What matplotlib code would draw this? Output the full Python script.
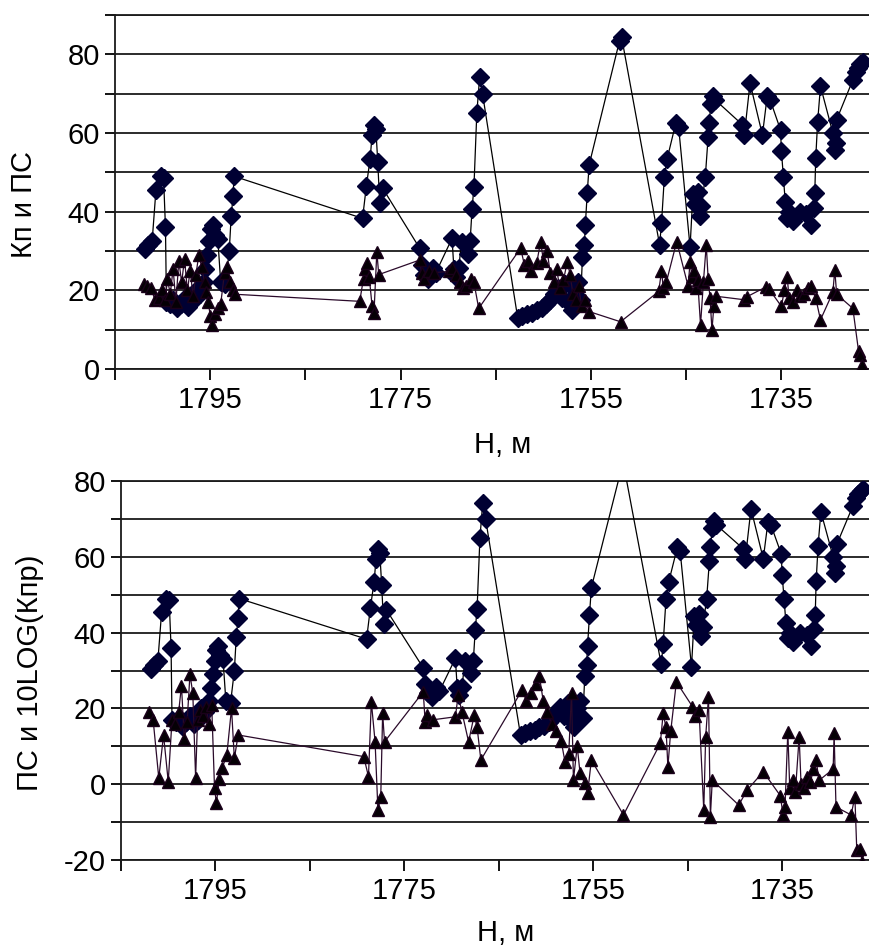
import matplotlib
matplotlib.use("Agg")
import matplotlib.pyplot as plt

plt.rcParams['font.family'] = ['Liberation Sans', 'DejaVu Sans']

# ПС (diamonds, same curve in both panels)
depth_ps = [1801.8, 1801.5, 1801.1, 1800.7, 1800.2, 1799.9, 1799.7, 1799.6, 1799.2, 1798.9,
            1798.5, 1798.1, 1797.7, 1797.3, 1796.9, 1796.5, 1796.1, 1795.7, 1795.5, 1795.3,
            1795.1, 1794.9, 1794.7, 1794.5, 1794.2, 1793.9, 1793.4, 1793.0, 1792.8, 1792.6,
            1792.5, 1779.0, 1778.6, 1778.2, 1778.0, 1777.8, 1777.6, 1777.4, 1777.2, 1776.9,
            1773.0, 1772.8, 1772.5, 1772.1, 1771.6, 1771.3, 1769.6, 1769.4, 1769.2, 1768.9,
            1768.6, 1767.9, 1767.7, 1767.5, 1767.3, 1767.0, 1766.7, 1766.4, 1762.7, 1762.2,
            1761.7, 1761.2, 1760.7, 1760.2, 1759.7, 1759.3, 1758.9, 1758.5, 1758.1, 1757.7,
            1757.4, 1757.0, 1756.7, 1756.4, 1756.1, 1755.9, 1755.7, 1755.6, 1755.4, 1755.2,
            1752.0, 1751.8, 1747.8, 1747.6, 1747.3, 1747.0, 1746.1, 1745.8, 1744.6, 1744.3,
            1744.1, 1743.8, 1743.6, 1743.4, 1743.0, 1742.7, 1742.6, 1742.4, 1742.2, 1742.0,
            1739.1, 1738.9, 1738.3, 1737.0, 1736.5, 1736.2, 1735.1, 1735.0, 1734.8, 1734.6,
            1734.4, 1734.2, 1733.8, 1733.1, 1732.4, 1731.9, 1731.6, 1731.5, 1731.4, 1731.2,
            1730.9, 1729.6, 1729.4, 1729.3, 1729.2, 1727.5, 1727.2, 1727.0, 1726.7, 1726.4]
ps = [30.5, 31.5, 32.5, 45.5, 49.0, 48.5, 36.0, 17.0, 16.5, 17.5,
      15.5, 16.5, 18.0, 15.8, 17.0, 20.0, 19.0, 22.0, 25.5, 29.0,
      32.5, 35.5, 36.5, 34.0, 33.0, 22.0, 21.5, 30.0, 38.8, 44.0,
      49.0, 38.3, 46.5, 53.5, 59.5, 62.0, 61.0, 52.5, 42.2, 46.0,
      30.7, 26.5, 24.0, 23.0, 25.6, 24.5, 33.2, 25.3, 23.5, 25.6,
      32.4, 29.3, 32.5, 40.6, 46.3, 65.0, 74.3, 70.0, 12.9, 13.5,
      14.0, 14.2, 15.0, 15.5, 16.5, 17.5, 19.0, 20.5, 18.0, 21.5,
      17.0, 15.0, 20.0, 22.0, 17.5, 28.5, 31.5, 36.6, 44.7, 51.9,
      83.5, 84.5, 31.6, 37.0, 48.8, 53.5, 62.5, 61.5, 31.0, 44.5,
      42.0, 45.0, 39.0, 41.5, 48.8, 59.0, 62.5, 67.5, 69.5, 68.5,
      62.1, 59.5, 72.7, 59.5, 69.3, 68.5, 60.8, 55.3, 48.9, 42.5,
      38.5, 40.0, 37.5, 40.0, 39.3, 36.6, 40.9, 44.7, 53.6, 62.9,
      71.9, 60.0, 55.7, 57.5, 63.4, 73.5, 75.5, 76.5, 77.5, 78.0]

# Кп (triangles, top panel)
depth_kp = [1802.0, 1801.6, 1801.2, 1800.8, 1800.4, 1800.1, 1799.7, 1799.5, 1799.2, 1798.9,
            1798.6, 1798.3, 1798.0, 1797.7, 1797.4, 1797.1, 1796.8, 1796.5, 1796.2, 1795.9,
            1795.6, 1795.4, 1795.2, 1795.0, 1794.8, 1794.5, 1794.2, 1793.9, 1793.5, 1793.2,
            1792.9, 1792.6, 1792.4, 1779.3, 1778.9, 1778.7, 1778.5, 1778.3, 1778.0, 1777.8,
            1777.5, 1777.3, 1773.0, 1772.8, 1772.5, 1772.0, 1771.5, 1769.9, 1769.6, 1769.2,
            1768.8, 1768.4, 1768.1, 1767.6, 1767.3, 1766.8, 1762.4, 1762.0, 1761.6, 1761.3,
            1760.7, 1760.3, 1760.0, 1759.6, 1759.3, 1758.9, 1758.6, 1758.3, 1757.9, 1757.5,
            1757.2, 1756.9, 1756.6, 1756.3, 1756.0, 1755.6, 1755.2, 1751.9, 1747.9, 1747.6,
            1747.4, 1747.1, 1746.0, 1744.8, 1744.6, 1744.4, 1744.2, 1744.0, 1743.8, 1743.5,
            1743.2, 1742.9, 1742.7, 1742.5, 1742.3, 1742.1, 1741.9, 1738.9, 1738.6, 1736.6,
            1736.3, 1735.0, 1734.7, 1734.4, 1734.2, 1733.8, 1733.4, 1733.0, 1732.6, 1732.2,
            1731.9, 1731.4, 1730.9, 1729.6, 1729.4, 1729.2, 1727.5, 1726.9, 1726.7, 1726.5]
kp = [21.5, 21.0, 20.5, 17.5, 18.0, 20.0, 17.5, 23.0, 19.0, 25.5,
      17.0, 27.5, 22.0, 28.0, 20.0, 25.0, 18.5, 24.0, 29.0, 26.0,
      22.0, 19.5, 17.0, 13.5, 11.2, 14.0, 15.5, 16.5, 24.5, 26.0,
      22.0, 20.0, 19.0, 17.2, 23.0, 25.5, 27.0, 23.5, 16.0, 14.2,
      29.8, 24.0, 27.7, 24.5, 23.0, 25.0, 24.5, 24.8, 25.6, 24.0,
      22.2, 20.5, 21.0, 23.0, 22.0, 15.4, 30.7, 26.5, 27.5, 25.0,
      27.0, 32.4, 27.5, 30.0, 24.5, 22.0, 25.5, 20.5, 22.5, 27.3,
      24.0, 19.0, 17.5, 21.0, 16.0, 17.5, 14.6, 12.0, 19.7, 24.8,
      20.5, 22.0, 32.4, 21.0, 27.3, 23.5, 25.0, 20.5, 22.5, 11.2,
      22.0, 31.6, 23.0, 18.0, 9.9, 16.0, 18.5, 17.6, 18.4, 20.9,
      20.3, 15.9, 20.0, 23.5, 18.0, 17.0, 20.0, 18.5, 19.0, 20.5,
      21.0, 18.0, 12.5, 19.5, 25.2, 19.0, 15.4, 4.5, 3.5, 1.0]

# 10LOG(Кпр) (triangles, bottom panel)
depth_kpr = [1802.0, 1801.6, 1801.0, 1800.5, 1800.0, 1799.6, 1799.3, 1798.9, 1798.6, 1798.3,
             1798.0, 1797.7, 1797.4, 1797.1, 1796.9, 1796.6, 1796.3, 1796.0, 1795.7, 1795.4,
             1795.1, 1794.9, 1794.6, 1794.3, 1793.8, 1793.3, 1793.0, 1792.6, 1779.3, 1778.8,
             1778.5, 1778.1, 1777.8, 1777.5, 1777.3, 1777.1, 1773.0, 1772.8, 1772.6, 1772.0,
             1769.6, 1769.3, 1768.9, 1768.2, 1767.6, 1767.3, 1766.9, 1762.5, 1762.1, 1761.6,
             1761.1, 1760.7, 1760.3, 1759.9, 1759.4, 1758.9, 1758.4, 1758.0, 1757.6, 1757.3,
             1757.1, 1756.7, 1756.4, 1755.9, 1755.6, 1755.2, 1751.8, 1747.9, 1747.6, 1747.3,
             1747.1, 1746.8, 1746.2, 1744.5, 1744.2, 1743.8, 1743.3, 1743.1, 1742.8, 1742.6,
             1742.4, 1739.6, 1738.7, 1737.0, 1735.2, 1734.9, 1734.7, 1734.4, 1734.2, 1733.9,
             1733.6, 1733.2, 1733.0, 1732.7, 1732.4, 1732.0, 1731.7, 1731.4, 1731.1, 1729.6,
             1729.5, 1729.3, 1727.7, 1727.3, 1727.1, 1726.8, 1726.5]
kpr = [19.0, 17.0, 1.6, 13.0, 0.7, 17.0, 16.0, 19.0, 26.0, 12.0,
       16.5, 29.0, 24.0, 1.6, 17.0, 19.5, 18.0, 20.5, 16.0, 21.0,
       -1.0, -5.0, 1.5, 4.2, 7.7, 20.0, 6.8, 13.0, 7.3, 2.0,
       21.8, 11.2, -6.8, -3.3, 18.7, 11.2, 24.4, 16.5, 18.3, 17.0,
       17.8, 23.5, 19.0, 11.2, 18.3, 15.0, 6.4, 25.0, 22.0, 24.0,
       26.5, 28.5, 22.0, 19.0, 16.0, 14.0, 11.5, 6.0, 8.0, 24.0,
       1.1, 10.0, 3.0, 0.2, -2.4, 6.4, -8.1, 10.8, 18.7, 15.0,
       4.6, 14.0, 27.0, 20.5, 18.0, 19.5, -6.8, 12.5, 23.0, -8.6,
       1.1, -5.5, -1.5, 3.3, -3.0, -8.1, -6.0, 13.9, -1.0, 1.0,
       -2.0, 12.5, 0.0, -1.0, 2.0, 0.5, 4.0, 6.4, 1.0, 4.0,
       13.4, -6.0, -8.1, -3.3, -17.4, -17.0, -20.4]

x_ticks = [1805, 1795, 1785, 1775, 1765, 1755, 1745, 1735]
x_labels = ['', '1795', '', '1775', '', '1755', '', '1735']
top_yticks = [0, 10, 20, 30, 40, 50, 60, 70, 80, 90]
bottom_yticks = [-20, -10, 0, 10, 20, 30, 40, 50, 60, 70, 80]

FS = 21
fig = plt.figure(figsize=(8.7, 9.5), dpi=100)
ax1 = fig.add_axes([0.1322, 0.6116, 0.8678, 0.3726])
ax2 = fig.add_axes([0.1391, 0.0947, 0.8609, 0.3989])


def style(ax, yticks, ylabel, xlab_y, ylab_x, ylab_y):
    ax.set_xlim(1805, 1725.7)
    ax.set_ylim(yticks[0], yticks[-1])
    ax.set_xticks(x_ticks)
    ax.set_xticklabels(x_labels)
    ax.set_yticks(yticks)
    ax.set_yticklabels([str(v) if v % 20 == 0 else '' for v in yticks])
    ax.yaxis.grid(True, color='#1a1a1a', lw=1.3)
    ax.set_axisbelow(True)
    ax.spines['right'].set_visible(False)
    for s in ('left', 'bottom', 'top'):
        ax.spines[s].set_linewidth(1.3)
        ax.spines[s].set_color('#1a1a1a')
    ax.tick_params(axis='both', labelsize=FS, direction='out', width=1.3)
    ax.tick_params(axis='y', length=7, pad=4)
    ax.tick_params(axis='x', length=8, pad=4)
    ax.set_xlabel('Н, м', fontsize=FS, va='center')
    ax.xaxis.set_label_coords(0.513, xlab_y)
    ax.set_ylabel(ylabel, fontsize=FS, va='center')
    ax.yaxis.set_label_coords(ylab_x, ylab_y)


dia = dict(marker='D', markersize=9, color='#000000', markerfacecolor='#000033',
           markeredgecolor='#000033', lw=0.9)
tri = dict(marker='^', markersize=9, color='#2a0a2a', markerfacecolor='#050005',
           markeredgecolor='#1a001a', lw=0.9)

ax1.plot(depth_ps, ps, zorder=3, **dia)
ax1.plot(depth_kp, kp, zorder=4, **tri)
style(ax1, top_yticks, 'Кп и ПС', -0.215, -0.12, 0.466)

ax2.plot(depth_ps, ps, zorder=3, **dia)
ax2.plot(depth_kpr, kpr, zorder=4, **tri)
style(ax2, bottom_yticks, 'ПС и 10LOG(Кпр)', -0.193, -0.1215, 0.493)

fig.savefig('out.png', dpi=100)
